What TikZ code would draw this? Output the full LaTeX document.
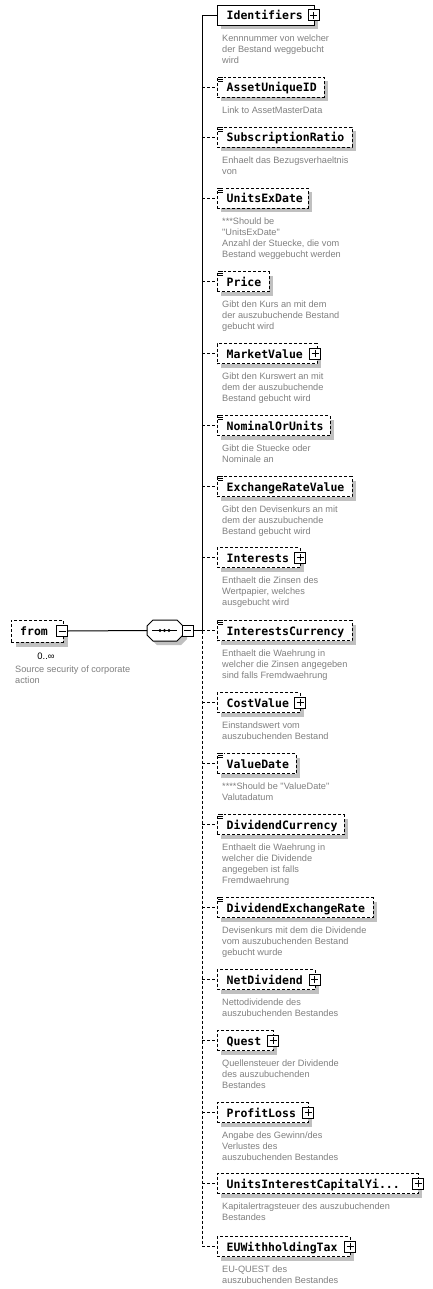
\documentclass[tikz,border=0pt]{standalone}
\usepackage{fontspec}
\newfontfamily\descfont{Liberation Sans}
\newfontfamily\lblfont{DejaVu Sans Mono}
\definecolor{shc}{RGB}{192,192,192}
\definecolor{desccol}{RGB}{128,128,128}
\newcommand\dstrut{\rule{0pt}{8pt}}
\tikzset{
 elbox/.style={rectangle, draw=black, fill=white, line width=1pt, minimum height=20pt, inner sep=0pt, outer sep=0pt},
 dsh/.style={dash pattern=on 3pt off 2pt},
 lbl/.style={anchor=base west, inner sep=0pt, font=\lblfont\bfseries\fontsize{11.5}{13}\selectfont},
 desc/.style={anchor=north west, inner sep=0pt, align=left, text=desccol, font=\descfont\fontsize{9.2}{11}\selectfont},
 pbox/.style={rectangle, draw=black, fill=white, line width=1pt, minimum size=11pt, inner sep=0pt, outer sep=0pt},
 conn/.style={line width=1pt},
}
% #1 id, #2 y, #3 right x, #4 label, #5 border style, #6 description
\newcommand\xel[6]{%
  \fill[shc] (221,#2-6.5) rectangle (#3+4,#2+13.5);
  \node[elbox,#5,minimum width={(#3-217)*1pt},anchor=west] (#1) at (217,#2-0.5) {};
  \node[lbl] (#1-l) at (226.5,#2+4) {#4};
  \node[desc] (#1-d) at (222,#2+17) {\dstrut#6};
  \coordinate (#1-t) at (202,#2-0.5);
  \draw[conn,#5] (#1-t) -- (#1.west);
}
\newcommand\xsimple[1]{%
  \fill[white] ([shift={(0.5pt,0.5pt)}]#1.north west) rectangle ++(6.5,4.5);
  \foreach \k in {0,2,4}{\draw[line width=0.8pt] ([shift={(1pt,-\k pt)}]#1.north west) -- ++(5,0);}
}
\newcommand\xplus[3]{%
  \node[pbox] (#1-p) at (#2,#3-0.5) {};
  \draw[line width=1pt] ([xshift=2pt]#1-p.west) -- ([xshift=-2pt]#1-p.east);
  \draw[line width=1pt] ([yshift=-2pt]#1-p.north) -- ([yshift=2pt]#1-p.south);
}
\begin{document}
\begin{tikzpicture}[x=1pt,y=-1pt]
\fill[white] (0,0) rectangle (433,1289);
\useasboundingbox (0,0) rectangle (433,1289);
% root element
\fill[shc] (16,625) rectangle (68,647);
\node[elbox,dsh,minimum width=52pt,minimum height=22pt,anchor=west] (from) at (11,631) {};
\node[lbl] (from-l) at (20,635) {from};
\node[pbox] (fromm) at (62,631) {};
\draw[line width=1pt] ([xshift=2pt]fromm.west) -- ([xshift=-2pt]fromm.east);
\node[inner sep=0pt,font=\descfont\fontsize{9.4}{11}\selectfont] (occ) at (46,656) {0..∞};
\node[desc] (from-d) at (15,664.5) {\dstrut Source security of corporate\\action};
% sequence compositor
\fill[shc] (157,624) -- (181,624) -- (187,630) -- (187,639) -- (181,645) -- (157,645) -- (151,639) -- (151,630) -- cycle;
\node[minimum width=36pt,minimum height=21pt,inner sep=0pt,outer sep=0pt] (seq) at (165,630.5) {};
\draw[line width=1pt,fill=white] (153,620) -- (177,620) -- (183,626) -- (183,635) -- (177,641) -- (153,641) -- (147,635) -- (147,626) -- cycle;
\draw[line width=1pt] ([xshift=5pt]seq.west) -- ([xshift=-6pt]seq.east);
\foreach \dx in {-5,-0.5,4}{\fill ([xshift=\dx pt]seq.center) circle (1.6pt);}
\node[pbox] (seqm) at (187.5,630.5) {};
\draw[line width=1pt] ([xshift=2pt]seqm.west) -- ([xshift=-2pt]seqm.east);
\coordinate (trk) at (202,630.5);
\draw[conn] (fromm.east) -- (seq.west);
\draw[conn] (seqm.east) -- (trk);
% children
\xel{ident}{16}{314}{Identifiers}{solid}{Kennnummer von welcher\\der Bestand weggebucht\\wird}
\xplus{ident}{313.5}{16}
\xel{asset}{88}{324}{AssetUniqueID}{dsh}{Link to AssetMasterData}
\xsimple{asset}
\xel{subs}{138}{352}{SubscriptionRatio}{dsh}{Enhaelt das Bezugsverhaeltnis\\von}
\xsimple{subs}
\xel{unitsex}{199}{308}{UnitsExDate}{dsh}{***Should be\\"UnitsExDate"\\Anzahl der Stuecke, die vom\\Bestand weggebucht werden}
\xsimple{unitsex}
\xel{price}{282}{269}{Price}{dsh}{Gibt den Kurs an mit dem\\der auszubuchende Bestand\\gebucht wird}
\xsimple{price}
\xel{market}{354}{317}{MarketValue}{dsh}{Gibt den Kurswert an mit\\dem der auszubuchende\\Bestand gebucht wird}
\xplus{market}{315}{354}
\xel{nominal}{426}{330}{NominalOrUnits}{dsh}{Gibt die Stuecke oder\\Nominale an}
\xsimple{nominal}
\xel{exch}{487}{352}{ExchangeRateValue}{dsh}{Gibt den Devisenkurs an mit\\dem der auszubuchende\\Bestand gebucht wird}
\xsimple{exch}
\xel{interests}{558}{300}{Interests}{dsh}{Enthaelt die Zinsen des\\Wertpapier, welches\\ausgebucht wird}
\xplus{interests}{300}{558}
\xel{intcur}{631}{352}{InterestsCurrency}{dsh}{Enthaelt die Waehrung in\\welcher die Zinsen angegeben\\sind falls Fremdwaehrung}
\xsimple{intcur}
\xel{cost}{703}{300}{CostValue}{dsh}{Einstandswert vom\\auszubuchenden Bestand}
\xplus{cost}{300}{703}
\xel{valdate}{764}{296}{ValueDate}{dsh}{****Should be "ValueDate"\\Valutadatum}
\xsimple{valdate}
\xel{divcur}{825}{344}{DividendCurrency}{dsh}{Enthaelt die Waehrung in\\welcher die Dividende\\angegeben ist falls\\Fremdwaehrung}
\xsimple{divcur}
\xel{divex}{908}{373}{DividendExchangeRate}{dsh}{Devisenkurs mit dem die Dividende\\vom auszubuchenden Bestand\\gebucht wurde}
\xsimple{divex}
\xel{netdiv}{980}{315}{NetDividend}{dsh}{Nettodividende des\\auszubuchenden Bestandes}
\xplus{netdiv}{314.5}{980}
\xel{quest}{1041}{273}{Quest}{dsh}{Quellensteuer der Dividende\\des auszubuchenden\\Bestandes}
\xplus{quest}{273}{1041}
\xel{profit}{1113}{308}{ProfitLoss}{dsh}{Angabe des Gewinn/des\\Verlustes des\\auszubuchenden Bestandes}
\xplus{profit}{308}{1113}
\xel{unitsint}{1184}{418}{UnitsInterestCapitalYi...}{dsh}{Kapitalertragsteuer des auszubuchenden\\Bestandes}
\xplus{unitsint}{418}{1184}
\xel{euwht}{1247}{350}{EUWithholdingTax}{dsh}{EU-QUEST des\\auszubuchenden Bestandes}
\xplus{euwht}{350}{1247}
% trunk
\draw[conn] (ident-t) -- (trk);
\draw[conn,dsh] (trk) -- (euwht-t);
\end{tikzpicture}
\end{document}
